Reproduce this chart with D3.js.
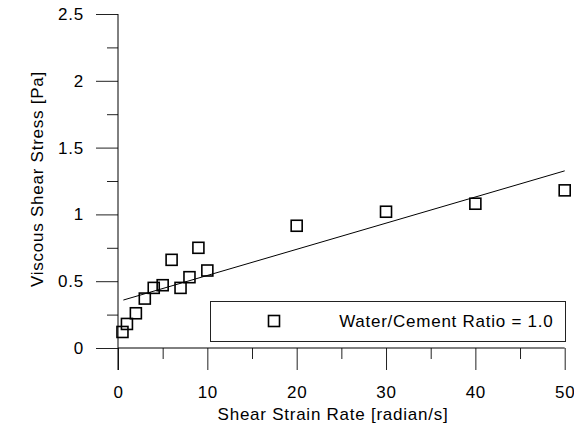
<!DOCTYPE html>
<html>
<head>
<meta charset="utf-8">
<script src="https://cdn.jsdelivr.net/npm/d3@7"></script>
<style>
  body { margin: 0; background: #fff; }
  text { font-family: "Liberation Sans", Arial, sans-serif; font-size: 17px; letter-spacing: 0.75px; fill: #000; }
</style>
</head>
<body>
<script>
// data
var shearRate = [0.5, 1, 2, 3, 4, 5, 6, 7, 8, 9, 10, 20, 30, 40, 50];
var shearStress = [0.12, 0.18, 0.26, 0.37, 0.45, 0.47, 0.66, 0.45, 0.53, 0.75, 0.58, 0.915, 1.02, 1.08, 1.18];
// fitted line, two ends
var trendX = [0.6, 50];
var trendY = [0.359, 1.326];
var xTicks = [0, 10, 20, 30, 40, 50];
var yTicks = [0, 0.5, 1, 1.5, 2, 2.5];
var legendLabel = "Water/Cement Ratio = 1.0";

var width = 574, height = 430;

var svg = d3.select("body").append("svg")
    .attr("width", width)
    .attr("height", height);

var x = d3.scaleLinear().domain([0, 50]).range([118, 564.7]);
var y = d3.scaleLinear().domain([0, 2.5]).range([348, 14]);

// y axis, major ticks outward with labels, minor ticks half length
var yAxis = d3.axisLeft(y).tickValues(yTicks).tickSize(22).tickPadding(12)
    .tickFormat(d3.format(""));
var gy = svg.append("g").attr("transform", "translate(118,0)").call(yAxis);
gy.select(".domain").remove();
svg.append("g").attr("transform", "translate(118,0)")
    .call(d3.axisLeft(y).tickValues(d3.range(0.25, 2.5, 0.5)).tickSize(11).tickFormat(""))
    .select(".domain").remove();

var gx = svg.append("g").attr("transform", "translate(0,348)")
    .call(d3.axisBottom(x).tickValues(xTicks).tickSize(22).tickPadding(16));
gx.select(".domain").remove();
svg.append("g").attr("transform", "translate(0,348)")
    .call(d3.axisBottom(x).tickValues(d3.range(5, 50, 10)).tickSize(11).tickFormat(""))
    .select(".domain").remove();

svg.selectAll(".tick line").attr("stroke", "#222");
svg.selectAll(".tick text")
    .style("font-family", "'Liberation Sans', Arial, sans-serif")
    .style("font-size", "17px")
    .style("letter-spacing", "0.75px");

// axis lines
svg.append("line")
    .attr("x1", 118).attr("x2", 118)
    .attr("y1", y(2.5)).attr("y2", 370)
    .attr("stroke", "#000");
svg.append("line")
    .attr("x1", 118).attr("x2", x(50))
    .attr("y1", 348).attr("y2", 348)
    .attr("stroke", "#000");

// trend line
svg.append("line")
    .attr("x1", x(trendX[0])).attr("y1", y(trendY[0]))
    .attr("x2", x(trendX[1])).attr("y2", y(trendY[1]))
    .attr("stroke", "#000")
    .attr("stroke-width", 1);

// markers
var pts = shearRate.map(function(d, i) { return { x: d, y: shearStress[i] }; });
var ms = 11;
svg.selectAll("rect.pt")
    .data(pts)
    .enter()
    .append("rect")
    .attr("class", "pt")
    .attr("x", function(d) { return x(d.x) - ms / 2; })
    .attr("y", function(d) { return y(d.y) - ms / 2; })
    .attr("width", ms)
    .attr("height", ms)
    .attr("fill", "none")
    .attr("stroke", "#000")
    .attr("stroke-width", 1.6);

// legend
svg.append("rect")
    .attr("x", 210.5).attr("y", 301.5)
    .attr("width", 355).attr("height", 40)
    .attr("fill", "#fff")
    .attr("stroke", "#222");
svg.append("rect")
    .attr("x", 274 - ms / 2).attr("y", 321 - ms / 2)
    .attr("width", ms).attr("height", ms)
    .attr("fill", "none")
    .attr("stroke", "#000")
    .attr("stroke-width", 1.6);
svg.append("text")
    .attr("x", 553.5).attr("y", 327)
    .attr("text-anchor", "end")
    .text(legendLabel);

// axis titles
svg.append("text")
    .attr("x", 333).attr("y", 419.5)
    .attr("text-anchor", "middle")
    .text("Shear Strain Rate [radian/s]");
svg.append("text")
    .attr("transform", "translate(42.5,179) rotate(-90)")
    .attr("text-anchor", "middle")
    .text("Viscous Shear Stress [Pa]");
</script>
</body>
</html>
